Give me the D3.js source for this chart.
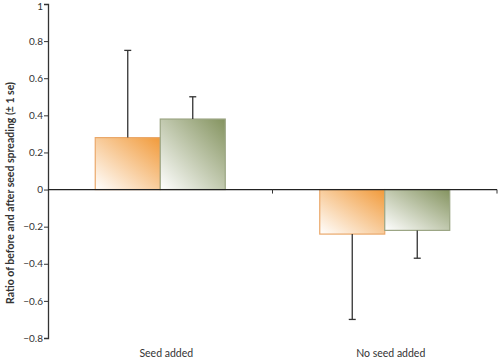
<!DOCTYPE html>
<html>
<head>
<meta charset="utf-8">
<script src="https://cdn.jsdelivr.net/npm/d3@7"></script>
<style>
  body { margin: 0; background: #fff; }
  text { font-family: Lato, "Open Sans", sans-serif; fill: #333; }
</style>
</head>
<body>
<div id="chart"></div>
<script>
let categories = ["Seed added", "No seed added"];
let seriesNames = ["a", "b"];
let seriesA = [0.28, -0.24];
let seriesB = [0.38, -0.22];
let errA = [0.47, 0.46];
let errB = [0.12, 0.15];
let yTicks = [1, 0.8, 0.6, 0.4, 0.2, 0, -0.2, -0.4, -0.6, -0.8];

const width = 500, height = 362;
const margin = { top: 4, right: 3, bottom: 24, left: 48 };

const svg = d3.select("#chart")
    .append("svg")
    .attr("width", width)
    .attr("height", height);

// gradients, white bottom-left to colour top-right
const defs = svg.append("defs");
function grad(id, color) {
  const g = defs.append("linearGradient")
      .attr("id", id)
      .attr("x1", "0%").attr("y1", "100%")
      .attr("x2", "100%").attr("y2", "0%");
  g.append("stop").attr("offset", "0%").attr("stop-color", "#ffffff");
  g.append("stop").attr("offset", "100%").attr("stop-color", color);
}
grad("gradA", "#f19a3a");
grad("gradB", "#84935f");

const yScale = d3.scaleLinear()
    .domain([-0.8, 1])
    .range([338, margin.top]);

const xScale = d3.scaleBand()
    .domain(categories)
    .range([margin.left, width - margin.right]);

const inner = d3.scaleBand()
    .domain(seriesNames)
    .range([0, 130]);

const fills = { a: "url(#gradA)", b: "url(#gradB)" };
const strokes = { a: "#eaa86a", b: "#9ba583" };

const rows = categories.map((c, i) => [
  { cat: c, key: "a", v: seriesA[i], e: errA[i] },
  { cat: c, key: "b", v: seriesB[i], e: errB[i] },
]).flat();

function barX(d) {
  return xScale(d.cat) + (xScale.bandwidth() - 130) / 2 + inner(d.key);
}

// bars
svg.append("g")
  .selectAll("rect")
  .data(rows)
  .join("rect")
    .attr("x", d => barX(d))
    .attr("y", d => yScale(Math.max(0, d.v)))
    .attr("width", inner.bandwidth())
    .attr("height", d => Math.abs(yScale(d.v) - yScale(0)))
    .attr("fill", d => fills[d.key])
    .attr("stroke", d => strokes[d.key])
    .attr("stroke-width", 1.2);

// error bars (one-sided, away from zero)
const err = svg.append("g").attr("stroke", "#333").attr("stroke-width", 1.3);
rows.forEach(d => {
  const cx = barX(d) + inner.bandwidth() / 2;
  const end = d.v >= 0 ? d.v + d.e : d.v - d.e;
  err.append("line")
      .attr("x1", cx).attr("x2", cx)
      .attr("y1", yScale(d.v)).attr("y2", yScale(end));
  err.append("line")
      .attr("x1", cx - 3.5).attr("x2", cx + 3.5)
      .attr("y1", yScale(end)).attr("y2", yScale(end));
});

// y axis
const yAxis = d3.axisLeft(yScale)
    .tickValues(yTicks)
    .tickSize(4)
    .tickFormat(d => d3.format("")(d));

const gy = svg.append("g")
    .attr("transform", `translate(${margin.left}, 0)`)
    .call(yAxis);
gy.select(".domain").attr("stroke", "#333").attr("stroke-width", 1.3);
gy.selectAll(".tick line").attr("stroke", "#333");
gy.selectAll(".tick text").attr("font-size", 10).attr("x", -5).style("fill", "#333");
// keep the top label inside the picture
gy.selectAll(".tick text").filter(d => d === 1).attr("dy", "0.5em");

// x axis along zero
const gx = svg.append("g")
    .attr("transform", `translate(0, ${yScale(0)})`);
gx.append("line")
    .attr("x1", margin.left).attr("x2", width - margin.right)
    .attr("stroke", "#222").attr("stroke-width", 1.3);
gx.selectAll(".bound")
  .data(categories)
  .join("line")
    .attr("x1", d => xScale(d) + xScale.bandwidth())
    .attr("x2", d => xScale(d) + xScale.bandwidth())
    .attr("y1", 0).attr("y2", 4)
    .attr("stroke", "#333");

// category labels
svg.append("g")
  .selectAll("text")
  .data(categories)
  .join("text")
    .attr("x", d => xScale(d) + xScale.bandwidth() / 2 + 6)
    .attr("y", 357)
    .attr("text-anchor", "middle")
    .attr("font-size", 10.5)
    .text(d => d);

// y title
svg.append("text")
    .attr("transform", "translate(14, 193) rotate(-90)")
    .attr("text-anchor", "middle")
    .attr("font-size", 10.5)
    .attr("font-weight", "bold")
    .text("Ratio of before and after seed spreading (± 1 se)");
</script>
</body>
</html>
